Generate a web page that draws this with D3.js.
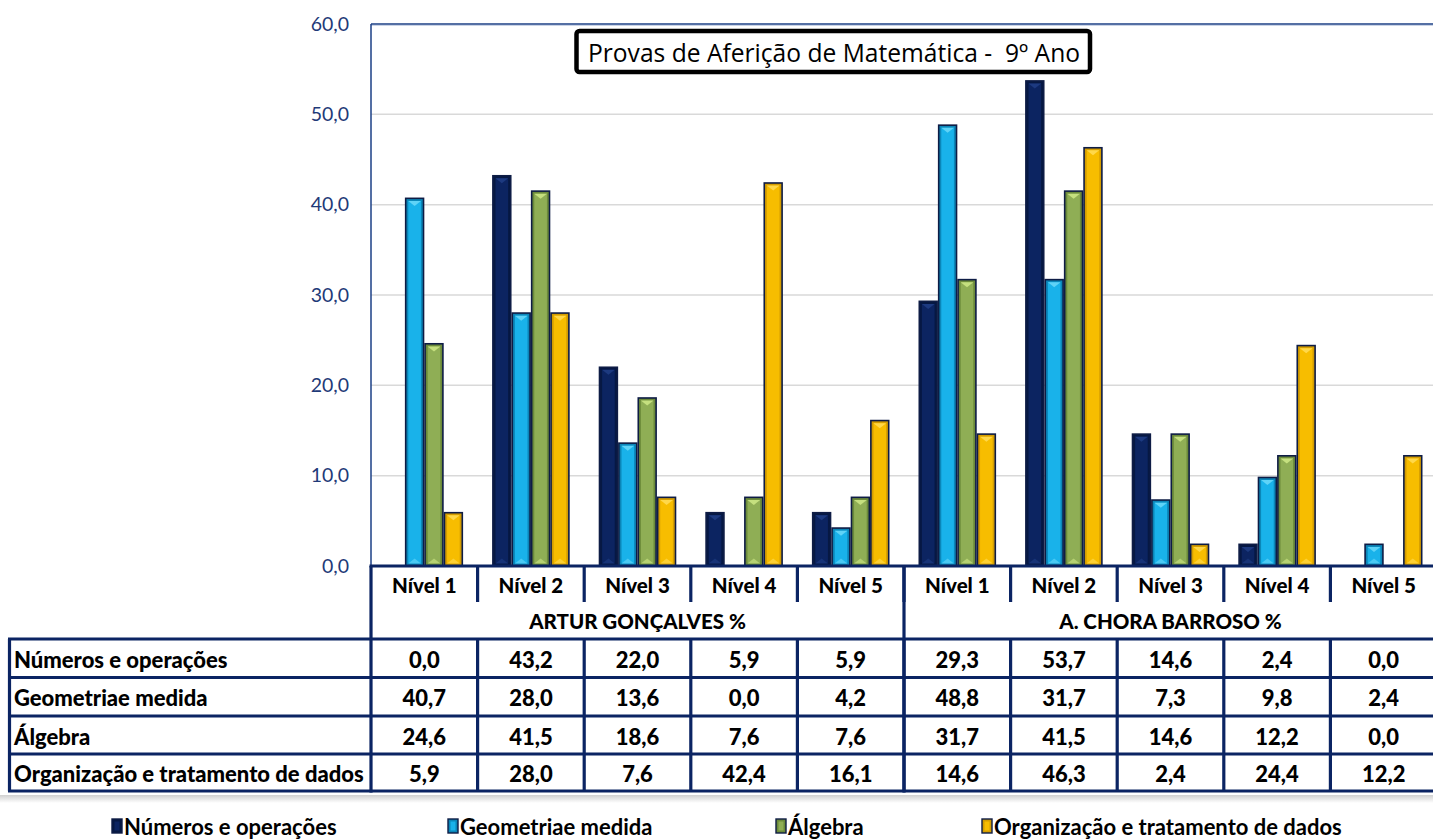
<!DOCTYPE html>
<html>
<head>
<meta charset="utf-8">
<script src="https://cdn.jsdelivr.net/npm/d3@7"></script>
<style>
  html, body { margin: 0; padding: 0; background: #fff; }
  svg { display: block; }
</style>
</head>
<body>
<svg id="chart" width="1433" height="839"></svg>
<script>
// ---------------- DATA ----------------
const levels = ["Nível 1", "Nível 2", "Nível 3", "Nível 4", "Nível 5"];
const groups = ["ARTUR GONÇALVES %", "A. CHORA BARROSO %"];
const seriesNames = ["Números e operações", "Geometriae medida", "Álgebra", "Organização e tratamento de dados"];
const numeros     = [0.0, 43.2, 22.0, 5.9, 5.9, 29.3, 53.7, 14.6, 2.4, 0.0];
const geometria   = [40.7, 28.0, 13.6, 0.0, 4.2, 48.8, 31.7, 7.3, 9.8, 2.4];
const algebra     = [24.6, 41.5, 18.6, 7.6, 7.6, 31.7, 41.5, 14.6, 12.2, 0.0];
const organizacao = [5.9, 28.0, 7.6, 42.4, 16.1, 14.6, 46.3, 2.4, 24.4, 12.2];
const yTicks = [0, 10, 20, 30, 40, 50, 60];
const title = "Provas de Aferição de Matemática -  9º Ano";

// ---------------- STYLE ----------------
const seriesValues = [numeros, geometria, algebra, organizacao];
const colors = [
  {base: "#0c2461", dark: "#061843", light: "#1d3a80"},
  {base: "#19b2ea", dark: "#0b86b8", light: "#5fd3f7"},
  {base: "#8fae55", dark: "#6b8a3a", light: "#c5e07f"},
  {base: "#f7bd00", dark: "#d49d00", light: "#ffd84a"}
];
const navy = "#0b2463";
const font = "Lato, 'Open Sans', sans-serif";

const svg = d3.select("#chart");
const W = 1433;

const plotLeft = 371, plotTop = 24, baseY = 566;
const colW = 106.6;
const cats = d3.range(10);

const y = d3.scaleLinear().domain([0, 60]).range([baseY, plotTop]);
const x0 = d3.scaleBand().domain(cats).range([plotLeft, plotLeft + colW * 10]).padding(0);
const x1 = d3.scaleBand().domain(d3.range(4)).range([15.3, colW - 15.3]).paddingInner(0.08);

const fmt = v => d3.format(".1f")(v).replace(".", ",");

// gridlines
svg.append("g").selectAll("line").data(yTicks.filter(t => t > 0 && t < 60)).join("line")
  .attr("x1", plotLeft).attr("x2", W)
  .attr("y1", d => y(d)).attr("y2", d => y(d))
  .attr("stroke", "#d9d9d9").attr("stroke-width", 1.5);

// plot border (left + top)
svg.append("line").attr("x1", plotLeft).attr("x2", W).attr("y1", plotTop).attr("y2", plotTop)
  .attr("stroke", "#1b3f86").attr("stroke-width", 1.5);
svg.append("line").attr("x1", plotLeft).attr("x2", W).attr("y1", plotTop + 1.5).attr("y2", plotTop + 1.5)
  .attr("stroke", "#c9d3e6").attr("stroke-width", 1);
svg.append("line").attr("x1", plotLeft).attr("x2", plotLeft).attr("y1", plotTop).attr("y2", baseY)
  .attr("stroke", "#1b3f86").attr("stroke-width", 1.5);

// y axis labels
const yAxis = d3.axisLeft(y).tickValues(yTicks).tickFormat(fmt).tickSize(0).tickPadding(22);
const ya = svg.append("g").attr("transform", `translate(${plotLeft},0)`).call(yAxis);
ya.select(".domain").remove();
ya.selectAll("text").attr("font-family", font).attr("font-size", 19.5).attr("fill", "#1f3a78");

// bars with bevel
function drawBar(g, bx, by, bw, bh, c) {
  if (bh <= 0) return;
  g.append("rect").attr("x", bx).attr("y", by).attr("width", bw).attr("height", bh)
    .attr("fill", c.dark).attr("stroke", "#0e1c45").attr("stroke-width", 1.6);
  const ins = 2.6;
  if (bw > 2 * ins && bh > 2 * ins) {
    g.append("rect").attr("x", bx + ins).attr("y", by + ins)
      .attr("width", bw - 2 * ins).attr("height", bh - 2 * ins).attr("fill", c.base);
    const cx = bx + bw / 2;
    const th = Math.min(5, bh / 2 - ins);
    g.append("path")
      .attr("d", `M${bx + ins},${by + ins} L${bx + bw - ins},${by + ins} L${cx},${by + ins + th} Z`)
      .attr("fill", c.light);
    g.append("path")
      .attr("d", `M${bx + ins},${by + bh - ins} L${bx + bw - ins},${by + bh - ins} L${cx},${by + bh - ins - th} Z`)
      .attr("fill", c.light).attr("opacity", 0.7);
  }
}

const barsG = svg.append("g");
seriesValues.forEach((vals, s) => {
  vals.forEach((v, i) => {
    if (v <= 0) return;
    const bx = x0(i) + x1(s);
    drawBar(barsG, bx, y(v), x1.bandwidth(), y(0) - y(v), colors[s]);
  });
});

// title box
const tg = svg.append("g");
tg.append("rect").attr("x", 576.5).attr("y", 31).attr("width", 513.5).attr("height", 41)
  .attr("rx", 3).attr("fill", "#fff").attr("stroke", "#000").attr("stroke-width", 4.5);
tg.append("text").attr("x", 834).attr("y", 52).attr("text-anchor", "middle")
  .attr("dominant-baseline", "central").style("white-space", "pre")
  .attr("font-family", "'Open Sans', sans-serif").attr("font-size", 24.6).attr("fill", "#000")
  .text(title);

// ---------------- DATA TABLE ----------------
const tableG = svg.append("g");
const rowTops = [639, 677.5, 716, 754, 791];
const hdrMid = 585, grpMid = 621;
const lw = 3.2;
const lineAttrs = sel => sel.attr("stroke", navy).attr("stroke-width", lw);
const tf = 22;

tableG.selectAll("text.lvl").data(cats).join("text").attr("class", "lvl")
  .attr("x", i => x0(i) + colW / 2).attr("y", hdrMid)
  .attr("text-anchor", "middle").attr("dominant-baseline", "central")
  .attr("font-family", font).attr("font-weight", 900).attr("font-size", 20.5).attr("fill", "#000")
  .text(i => levels[i % 5]);

tableG.selectAll("text.grp").data(groups).join("text").attr("class", "grp")
  .attr("x", (d, g) => x0(g * 5) + colW * 2.5).attr("y", grpMid)
  .attr("text-anchor", "middle").attr("dominant-baseline", "central")
  .attr("font-family", font).attr("font-weight", 900).attr("font-size", 20.5).attr("fill", "#000")
  .text(d => d);

tableG.selectAll("line.hv").data(cats.slice(1)).join("line").attr("class", "hv")
  .attr("x1", i => x0(i)).attr("x2", i => x0(i)).attr("y1", baseY).attr("y2", 602)
  .call(lineAttrs);

tableG.append("line").attr("x1", plotLeft - 1.5).attr("x2", W).attr("y1", baseY).attr("y2", baseY).call(lineAttrs);

[plotLeft, x0(5)].forEach(xx => {
  tableG.append("line").attr("x1", xx).attr("x2", xx).attr("y1", baseY).attr("y2", rowTops[4] + lw / 2).call(lineAttrs);
});

rowTops.forEach(ry => {
  tableG.append("line").attr("x1", 8).attr("x2", W).attr("y1", ry).attr("y2", ry).call(lineAttrs);
});
tableG.append("line").attr("x1", 9.5).attr("x2", 9.5).attr("y1", rowTops[0]).attr("y2", rowTops[4]).call(lineAttrs);
tableG.selectAll("line.dv").data(cats.slice(1)).join("line").attr("class", "dv")
  .attr("x1", i => x0(i)).attr("x2", i => x0(i)).attr("y1", rowTops[0]).attr("y2", rowTops[4])
  .call(lineAttrs);

seriesNames.forEach((name, s) => {
  const cy = (rowTops[s] + rowTops[s + 1]) / 2 + 1;
  tableG.append("text").attr("x", 14).attr("y", cy).attr("dominant-baseline", "central")
    .attr("font-family", font).attr("font-weight", 900).attr("font-size", tf).attr("fill", "#000")
    .text(name);
  tableG.selectAll(null).data(seriesValues[s]).join("text")
    .attr("x", (v, i) => x0(i) + colW / 2).attr("y", cy)
    .attr("text-anchor", "middle").attr("dominant-baseline", "central")
    .attr("font-family", font).attr("font-weight", 900).attr("font-size", tf).attr("fill", "#000")
    .text(v => fmt(v));
});

// separator shadow
const defs = svg.append("defs");
const sg = defs.append("linearGradient").attr("id", "sep").attr("x1", 0).attr("x2", 0).attr("y1", 0).attr("y2", 1);
sg.append("stop").attr("offset", 0).attr("stop-color", "#d0d0d0");
sg.append("stop").attr("offset", 1).attr("stop-color", "#ffffff");
svg.append("rect").attr("x", 0).attr("y", 795).attr("width", W).attr("height", 8).attr("fill", "url(#sep)");

// ---------------- LEGEND ----------------
const legendX = [112, 448, 776, 982];
const lg = svg.append("g");
seriesNames.forEach((name, s) => {
  const c = colors[s];
  const lx = legendX[s], ly = 819;
  lg.append("rect").attr("x", lx).attr("y", ly).attr("width", 10).attr("height", 14)
    .attr("fill", c.dark).attr("stroke", "#0e1c45").attr("stroke-width", 1.4);
  lg.append("rect").attr("x", lx + 2.5).attr("y", ly + 2.5).attr("width", 5).attr("height", 9).attr("fill", c.base);
  lg.append("text").attr("x", lx + 12).attr("y", ly + 7).attr("dominant-baseline", "central")
    .attr("font-family", font).attr("font-weight", "bold").attr("font-size", 22).attr("fill", "#000")
    .text(name);
});
</script>
</body>
</html>
